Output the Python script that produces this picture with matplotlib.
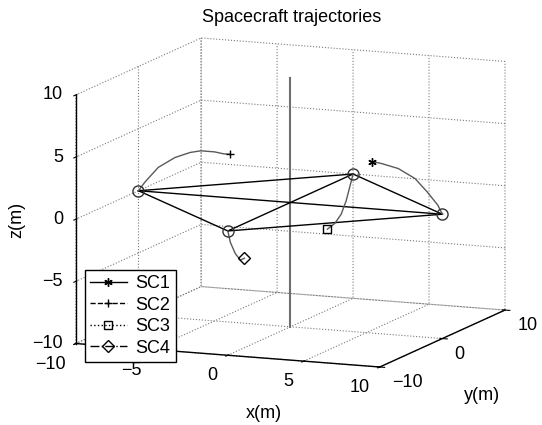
import numpy as np
import matplotlib
matplotlib.use('Agg')
import matplotlib.pyplot as plt
from mpl_toolkits.mplot3d import proj3d

plt.rcParams['font.family'] = ['Liberation Sans', 'DejaVu Sans']
plt.rcParams['font.size'] = 13
plt.rcParams['grid.linestyle'] = ':'
plt.rcParams['grid.color'] = '#7a7a7a'
plt.rcParams['grid.linewidth'] = 0.8

# spacecraft positions (end of each trajectory): SC1..SC4
pos_x = [10, -10, 0, 0]
pos_y = [0, 0, 10, -10]
pos_z = [0, 0, 0, 0]

# trajectories, from start marker to spacecraft position
sc1_x = [5.4, 6.0, 7.1, 8.2, 9.0, 9.7, 10.0]
sc1_y = [0, 0, 0, 0, 0, 0, 0]
sc1_z = [3.8, 3.7, 3.4, 2.7, 1.7, 0.7, 0.0]

sc2_x = [-4.0, -4.4, -5.0, -5.9, -6.6, -7.6, -8.7, -9.6, -10.0]
sc2_y = [0, 0, 0, 0, 0, 0, 0, 0, 0]
sc2_z = [3.5, 3.5, 3.6, 3.6, 3.4, 2.9, 2.0, 0.7, 0.0]

sc3_x = [0, 0, 0, 0, 0, 0]
sc3_y = [5.9, 7.1, 8.1, 8.9, 9.6, 10.0]
sc3_z = [-3.5, -3.3, -2.8, -1.9, -0.7, 0.0]

sc4_x = [0, 0, 0, 0, 0]
sc4_y = [-7.35, -8.0, -8.8, -9.6, -10.0]
sc4_z = [-2.8, -2.8, -2.1, -1.0, 0.0]

x_ticks = [-10, -5, 0, 5, 10]
y_ticks = [-10, 0, 10]
z_ticks = [-10, -5, 0, 5, 10]

names = ['SC1', 'SC2', 'SC3', 'SC4']
styles = ['-', '--', ':', '-.']
marks = [(6, 2, 0), '+', 's', 'D']


def lab(v):
    return ('%g' % v).replace('-', '\u2212')


fig = plt.figure(figsize=(5.42, 4.25), dpi=100)
ax = fig.add_axes([0.026, 0.046, 1.0, 0.93], projection='3d', proj_type='ortho')
ax.view_init(elev=10.8, azim=-67.6)
ax.set_box_aspect((1, 1, 0.77), zoom=1.3)

trajs = [(sc1_x, sc1_y, sc1_z), (sc2_x, sc2_y, sc2_z),
         (sc3_x, sc3_y, sc3_z), (sc4_x, sc4_y, sc4_z)]

# centre line
ax.plot([0, 0], [0, 0], [-10, 10], color='#6e6e6e', lw=1.5)

# tetrahedron edges
for i in range(4):
    for j in range(i + 1, 4):
        ax.plot([pos_x[i], pos_x[j]], [pos_y[i], pos_y[j]], [pos_z[i], pos_z[j]],
                color='black', lw=1.0)

for (tx, ty, tz), nm, ls, mk in zip(trajs, names, styles, marks):
    ax.plot(tx, ty, tz, color='#5a5a5a', lw=1.0)
    ax.plot([tx[0]], [ty[0]], [tz[0]], linestyle=ls, marker=mk, color='black',
            markerfacecolor='none', markersize=6, lw=1.0, label=nm)

ax.plot(pos_x, pos_y, pos_z, 'o', color='#333333', markerfacecolor='none',
        markersize=8, lw=0)

ax.set_xlim(-10, 10)
ax.set_ylim(-10, 10)
ax.set_zlim(-10, 10)
ax.set_xticks(x_ticks)
ax.set_yticks(y_ticks)
ax.set_zticks(z_ticks)
ax.zaxis.set_ticks_position('lower')

for axis in (ax.xaxis, ax.yaxis, ax.zaxis):
    axis.set_tick_params(labelbottom=False)
    axis.label.set_visible(False)
    axis.pane.set_facecolor('white')
    axis.pane.set_edgecolor('white')
    axis.line.set_color('black')
    axis.line.set_linewidth(1.0)
    axis._axinfo['grid']['linestyle'] = ':'
    axis._axinfo['grid']['color'] = '#7a7a7a'
    axis._axinfo['grid']['linewidth'] = 0.8

leg = ax.legend(loc='lower left', bbox_to_anchor=(85 / 542, 1 - 362 / 425),
                bbox_transform=fig.transFigure, fancybox=False,
                edgecolor='black', framealpha=1, handlelength=2.0,
                handletextpad=0.5, labelspacing=0.245, borderpad=0.3,
                borderaxespad=0, fontsize=13)
leg.get_frame().set_linewidth(1.0)

# draw once so the 3d projection is known, then put the tick labels
# where matlab puts them
fig.canvas.draw()


def put(x, y, z, s, **kw):
    px, py, _ = proj3d.proj_transform(x, y, z, ax.M)
    ax.text2D(px, py, s, transform=ax.transData, fontsize=13, **kw)


for v in x_ticks:
    put(v, -11.6, -11.3, lab(v), ha='right', va='center')
for v in y_ticks:
    put(10.8, v, -11.2, lab(v), ha='left', va='center')
for v in z_ticks:
    put(-10.72, -10.3, v, lab(v), ha='right', va='center')

fig.text(264 / 542, 1 - 413 / 425, 'x(m)', ha='center', va='center', fontsize=13)
fig.text(482 / 542, 1 - 395 / 425, 'y(m)', ha='center', va='center', fontsize=13)
fig.text(17 / 542, 1 - 220 / 425, 'z(m)', ha='center', va='center',
         rotation=90, fontsize=13)
fig.suptitle('Spacecraft trajectories', x=292 / 542, y=1 - 9 / 425,
             va='top', fontsize=13)

fig.savefig('out.png', dpi=100)
